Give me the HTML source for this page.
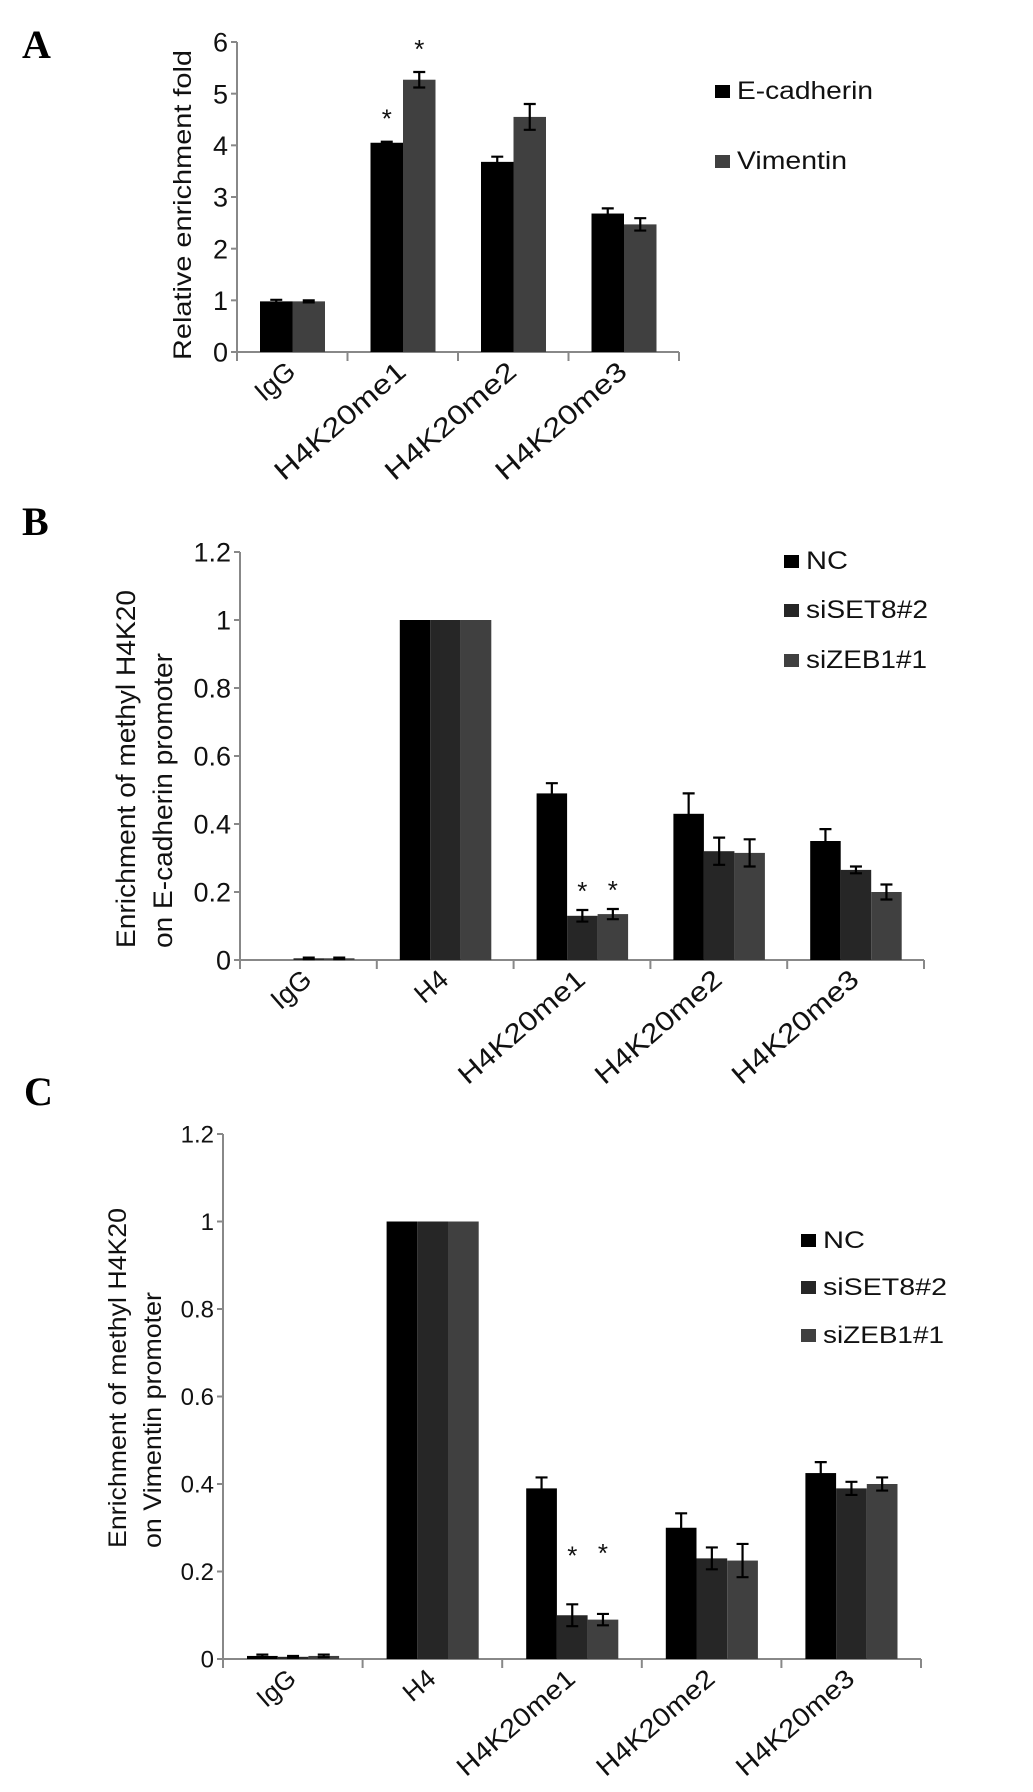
<!DOCTYPE html>
<html><head><meta charset="utf-8"><style>
html,body{margin:0;padding:0;background:#fff;}
svg{display:block;font-family:"Liberation Sans",sans-serif;}
</style></head><body>
<svg id="fig" width="1033" height="1792" viewBox="0 0 1033 1792" xmlns="http://www.w3.org/2000/svg">
<text x="22" y="58" font-family="Liberation Serif" font-weight="bold" font-size="40">A</text>
<text x="22" y="535" font-family="Liberation Serif" font-weight="bold" font-size="40">B</text>
<text x="24" y="1105" font-family="Liberation Serif" font-weight="bold" font-size="40">C</text>
</svg>
<script>
// Panel A data
const catsA = ["IgG","H4K20me1","H4K20me2","H4K20me3"];
const ecadA = [0.98, 4.05, 3.68, 2.68];
const ecadErrA = [0.03, 0.02, 0.1, 0.1];
const vimA = [0.98, 5.27, 4.55, 2.47];
const vimErrA = [0.02, 0.15, 0.25, 0.12];
const ticksA = ["0","1","2","3","4","5","6"];
const tickValsA = [0,1,2,3,4,5,6];
// Panel B data
const catsB = ["IgG","H4","H4K20me1","H4K20me2","H4K20me3"];
const ncB = [0, 1, 0.49, 0.43, 0.35];
const ncErrB = [0, 0, 0.03, 0.06, 0.035];
const setB = [0.005, 1, 0.13, 0.32, 0.265];
const setErrB = [0.002, 0, 0.017, 0.04, 0.01];
const zebB = [0.005, 1, 0.135, 0.315, 0.2];
const zebErrB = [0.002, 0, 0.015, 0.04, 0.022];
const ticksB = ["0","0.2","0.4","0.6","0.8","1","1.2"];
const tickValsB = [0,0.2,0.4,0.6,0.8,1,1.2];
// Panel C data
const catsC = ["IgG","H4","H4K20me1","H4K20me2","H4K20me3"];
const ncC = [0.007, 1, 0.39, 0.30, 0.425];
const ncErrC = [0.003, 0, 0.025, 0.033, 0.025];
const setC = [0.005, 1, 0.10, 0.23, 0.39];
const setErrC = [0.002, 0, 0.025, 0.025, 0.015];
const zebC = [0.007, 1, 0.09, 0.225, 0.40];
const zebErrC = [0.003, 0, 0.013, 0.038, 0.015];
const ticksC = ["0","0.2","0.4","0.6","0.8","1","1.2"];
const tickValsC = [0,0.2,0.4,0.6,0.8,1,1.2];

const NS = "http://www.w3.org/2000/svg";
const svg = document.getElementById('fig');
function mk(tag, attrs, parent){
  const e = document.createElementNS(NS, tag);
  for (const k in attrs) e.setAttribute(k, attrs[k]);
  (parent||svg).appendChild(e);
  return e;
}
function chart(o){
  const g = mk('g', {});
  
  
  const yMax = o.tickVals[o.tickVals.length-1];
  const y = v => o.y0 - (o.y0 - o.yTop) * v / yMax;
  const n = o.cats.length;
  const gw = (o.xEnd - o.x0) / n;
  const xc = i => o.x0 + gw * i;
  // axes
  const ya = mk('line', {x1:o.x0, y1:o.yTop, x2:o.x0, y2:o.y0, stroke:'#888', 'stroke-width':2}, g);
  
  
  const xa = mk('line', {x1:o.x0-6, y1:o.y0, x2:o.xEnd, y2:o.y0, stroke:'#888', 'stroke-width':2}, g);
  
  
  o.tickVals.forEach((v,i)=>{
    mk('line', {x1:o.x0-6, y1:y(v), x2:o.x0, y2:y(v), stroke:'#888', 'stroke-width':2}, g);
    const t = mk('text', {x:o.x0-9, y:y(v)+o.tickFs*0.36, 'text-anchor':'end', 'font-size':o.tickFs, fill:'#111'}, g);
    t.textContent = o.ticks[i];
    
    
  });
  for (let i=0;i<=n;i++){
    mk('line', {x1:xc(i), y1:o.y0, x2:xc(i), y2:o.y0+9, stroke:'#888', 'stroke-width':2}, g);
  }
  // bars
  o.series.forEach((s,si)=>{
    s.vals.forEach((v,i)=>{
      const bx = xc(i) + o.off + si*o.bw;
      const r = mk('rect', {x:bx, y:y(v), width:o.bw, height:o.y0-y(v), fill:s.color}, g);
      
      
      const e = s.err[i];
      if (e > 0 || o.showZeroErr) {
        const cx = bx + o.bw/2;
        const eb = mk('path', {d:`M${cx-6},${y(v+e)}H${cx+6}M${cx},${y(v+e)}V${y(v-e)}M${cx-6},${y(v-e)}H${cx+6}`, stroke:'#000', 'stroke-width':2.2, fill:'none'}, g);
        
        
      }
    });
  });
  // stars
  o.stars.forEach(st=>{
    const s = o.series[st[0]];
    const bx = xc(st[1]) + o.off + st[0]*o.bw + o.bw/2;
    const t = mk('text', {x:bx, y:y(s.vals[st[1]] + s.err[st[1]]) - st[2], 'text-anchor':'middle', 'font-size':26, fill:'#111'}, g);
    t.textContent = '*';
    
    
  });
  // x labels
  o.cats.forEach((c,i)=>{
    const ax = xc(i) + gw/2 + 5, ay = o.y0 + 22;
    const attrs = {x:ax, y:ay, 'text-anchor':'end', 'font-size':o.xFs, fill:'#111', transform:`rotate(-41 ${ax} ${ay})`};
    if (c.length > 4) { attrs.textLength = o.xLen; attrs.lengthAdjust = 'spacingAndGlyphs'; }
    const t = mk('text', attrs, g);
    t.textContent = c;
    
    
  });
  // y title
  o.titles.forEach(tt=>{
    const t = mk('text', {x:tt.x, y:tt.y, 'font-size':o.titleFs, fill:'#111', textLength:tt.len, lengthAdjust:'spacingAndGlyphs', transform:`rotate(-90 ${tt.x} ${tt.y})`}, g);
    t.textContent = tt.text;
    
    
  });
  // legend
  o.legend.forEach((L,i)=>{
    const s = o.series[i];
    const sq = mk('rect', {x:o.legX, y:L.y, width:15, height:13, fill:s.color}, g);
    
    
    const t = mk('text', {x:o.legX+22, y:L.y+14, 'font-size':o.legFs, fill:'#111', textLength:L.len, lengthAdjust:'spacingAndGlyphs'}, g);
    t.textContent = s.label;
    
    
  });
}
chart({name:'chart-a', cats:catsA, x0:237, xEnd:679, y0:352, yTop:42, ticks:ticksA, tickVals:tickValsA, tickFs:27,
  off:23, bw:32.5, showZeroErr:false,
  series:[{key:'e-cadherin', label:'E-cadherin', color:'#000', vals:ecadA, err:ecadErrA},
          {key:'vimentin', label:'Vimentin', color:'#404040', vals:vimA, err:vimErrA}],
  stars:[[0,1,14],[1,1,14]], xFs:27, xLen:164, titleFs:25,
  titles:[{x:191, y:360, len:310, text:'Relative  enrichment  fold'}],
  legX:715, legFs:25, legend:[{y:85,len:136},{y:155,len:110}]});
chart({name:'chart-b', cats:catsB, x0:240, xEnd:924, y0:960, yTop:552, ticks:ticksB, tickVals:tickValsB, tickFs:27,
  off:23, bw:30.5, showZeroErr:false,
  series:[{key:'nc', label:'NC', color:'#000', vals:ncB, err:ncErrB},
          {key:'siset8', label:'siSET8#2', color:'#262626', vals:setB, err:setErrB},
          {key:'sizeb1', label:'siZEB1#1', color:'#404040', vals:zebB, err:zebErrB}],
  stars:[[1,2,10],[2,2,10]], xFs:27, xLen:158, titleFs:27,
  titles:[{x:135, y:948, len:358, text:'Enrichment  of methyl H4K20'},{x:172, y:948, len:295, text:'on E-cadherin  promoter'}],
  legX:784, legFs:25, legend:[{y:555,len:42},{y:604,len:122},{y:654,len:121}]});
chart({name:'chart-c', cats:catsC, x0:223, xEnd:921, y0:1659, yTop:1134, ticks:ticksC, tickVals:tickValsC, tickFs:24,
  off:24, bw:30.7, showZeroErr:false,
  series:[{key:'nc', label:'NC', color:'#000', vals:ncC, err:ncErrC},
          {key:'siset8', label:'siSET8#2', color:'#262626', vals:setC, err:setErrC},
          {key:'sizeb1', label:'siZEB1#1', color:'#404040', vals:zebC, err:zebErrC}],
  stars:[[1,2,40],[2,2,52]], xFs:26, xLen:147, titleFs:25,
  titles:[{x:126, y:1548, len:340, text:'Enrichment  of methyl H4K20'},{x:161, y:1548, len:256, text:'on Vimentin  promoter'}],
  legX:801, legFs:24, legend:[{y:1234,len:42},{y:1281,len:124},{y:1329,len:121}]});
</script>
</body></html>
